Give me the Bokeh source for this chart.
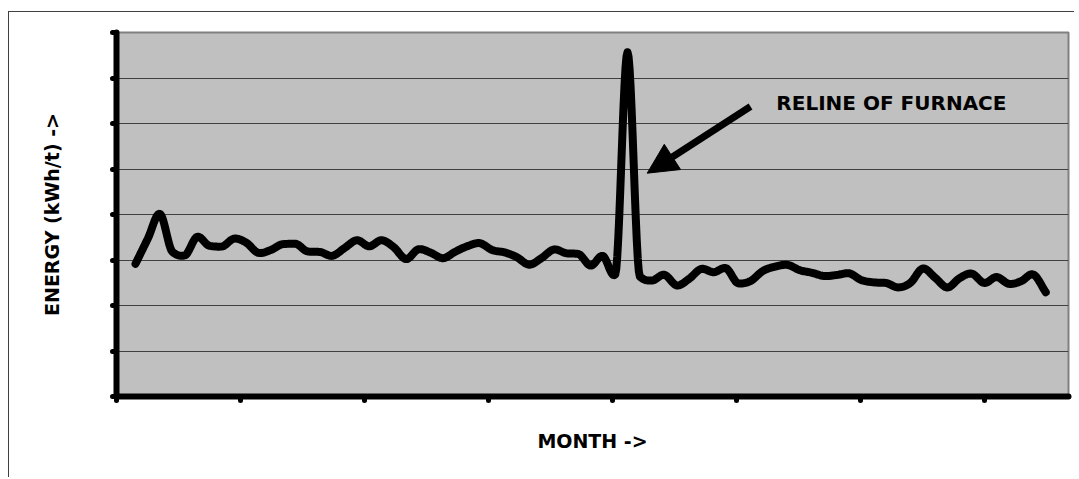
import numpy as np
from bokeh.plotting import figure
from bokeh.models import (Range1d, FixedTicker, CustomJSTickFormatter, Arrow,
                          NormalHead, Label)
from bokeh.embed import file_html
from bokeh.resources import INLINE

# ---- data (arbitrary energy units, grid step 100) ----
months = list(range(1, 76))
energy = [291.6, 346.8, 401.1, 318.0, 310.0, 350.8, 331.4, 329.5, 346.8, 338.2,
          315.6, 322.0, 334.9, 335.6, 318.7, 317.6, 309.2, 326.4, 343.5, 330.1,
          343.5, 328.1, 302.0, 323.5, 316.0, 304.0, 318.2, 330.5, 336.9, 321.8,
          316.7, 306.2, 289.7, 304.0, 323.1, 314.9, 313.2, 287.7, 308.8, 268.1,
          756.7, 263.7, 254.9, 267.5, 244.2, 258.5, 280.4, 273.2, 282.0, 248.8,
          253.8, 275.8, 285.5, 289.2, 277.6, 271.9, 264.8, 267.0, 270.8, 256.0,
          250.8, 249.5, 239.8, 249.9, 281.3, 261.3, 239.6, 260.2, 269.9, 249.5,
          262.6, 247.7, 253.4, 268.1, 229.2]
annotation_text = "RELINE OF FURNACE"
x_title = "MONTH ->"
y_title = "ENERGY (kWh/t) ->"

# ---- smoothed curve (Catmull-Rom style Hermite with limited tangents) ----
def smooth(xs, ys, n=12):
    xs = np.asarray(xs, float); ys = np.asarray(ys, float)
    h = np.diff(xs); d = np.diff(ys) / h
    m = np.zeros_like(ys)
    m[0], m[-1] = d[0], d[-1]
    for k in range(1, len(ys) - 1):
        cr = (ys[k + 1] - ys[k - 1]) / (xs[k + 1] - xs[k - 1])
        lim = min(abs(d[k - 1]), abs(d[k]))
        if d[k - 1] * d[k] <= 0:
            lim = lim * 0.8
        else:
            lim = lim * 3
        m[k] = float(np.clip(cr, -lim, lim))
    ox, oy = [], []
    for k in range(len(xs) - 1):
        t = np.linspace(0, 1, n, endpoint=False)
        h00 = 2*t**3 - 3*t**2 + 1; h10 = t**3 - 2*t**2 + t
        h01 = -2*t**3 + 3*t**2;    h11 = t**3 - t**2
        ox.extend(xs[k] + t * h[k])
        oy.extend(h00*ys[k] + h10*h[k]*m[k] + h01*ys[k+1] + h11*h[k]*m[k+1])
    ox.append(xs[-1]); oy.append(ys[-1])
    return ox, oy

sx, sy = smooth(months, energy)

x0, x1 = -0.545, 76.85
p = figure(width=1066, height=466, output_backend="svg", toolbar_location=None,
           x_range=Range1d(x0, x1), y_range=Range1d(0, 800),
           min_border_left=107, min_border_top=20, min_border_bottom=82,
           min_border_right=7)
p.styles = {"border-top": "1px solid #404040", "border-left": "1px solid #404040",
            "margin-left": "8px", "margin-top": "11px"}
p.border_fill_color = "white"
p.background_fill_color = "#C0C0C0"
p.outline_line_color = "#808080"
p.outline_line_width = 2

p.line(sx, sy, line_color="black", line_width=8, line_join="round",
       line_cap="round")

empty = CustomJSTickFormatter(code="return ''")
step = 124 / 12.3
p.xaxis.ticker = FixedTicker(ticks=[x0 + k * step for k in range(8)])
p.yaxis.ticker = FixedTicker(ticks=list(range(0, 801, 100)))
for ax in (p.xaxis[0], p.yaxis[0]):
    ax.formatter = empty
    ax.axis_line_width = 6
    ax.axis_line_color = "black"
    ax.axis_line_cap = "round"
    ax.major_tick_line_width = 5
    ax.major_tick_line_cap = "round"
    ax.major_tick_line_color = "black"
    ax.major_tick_out = 4
    ax.major_tick_in = 0
    ax.minor_tick_line_color = None
    ax.major_label_standoff = 0
    ax.axis_label_text_font = "DejaVu Sans"
    ax.axis_label_text_font_style = "bold"
    ax.axis_label_text_color = "black"

p.xaxis.axis_label = x_title
p.xaxis.axis_label_text_font_size = "19px"
p.xaxis.axis_label_standoff = 29
p.yaxis.axis_label = y_title
p.yaxis.axis_label_text_font_size = "19px"
p.yaxis.axis_label_standoff = 50

p.xgrid.grid_line_color = None
p.ygrid.grid_line_color = "#404040"
p.ygrid.grid_line_width = 1

p.add_layout(Arrow(end=NormalHead(size=30, fill_color="black", line_color="black"),
                   x_start=51.0, y_start=637.4, x_end=42.6, y_end=490.8,
                   line_width=7, line_color="black"))
p.add_layout(Label(x=53.1, y=644.0, text=annotation_text,
                   text_font="DejaVu Sans", text_font_style="bold",
                   text_font_size="20px", text_baseline="alphabetic",
                   text_color="black"))

open("out.html", "w").write(file_html(p, INLINE))
